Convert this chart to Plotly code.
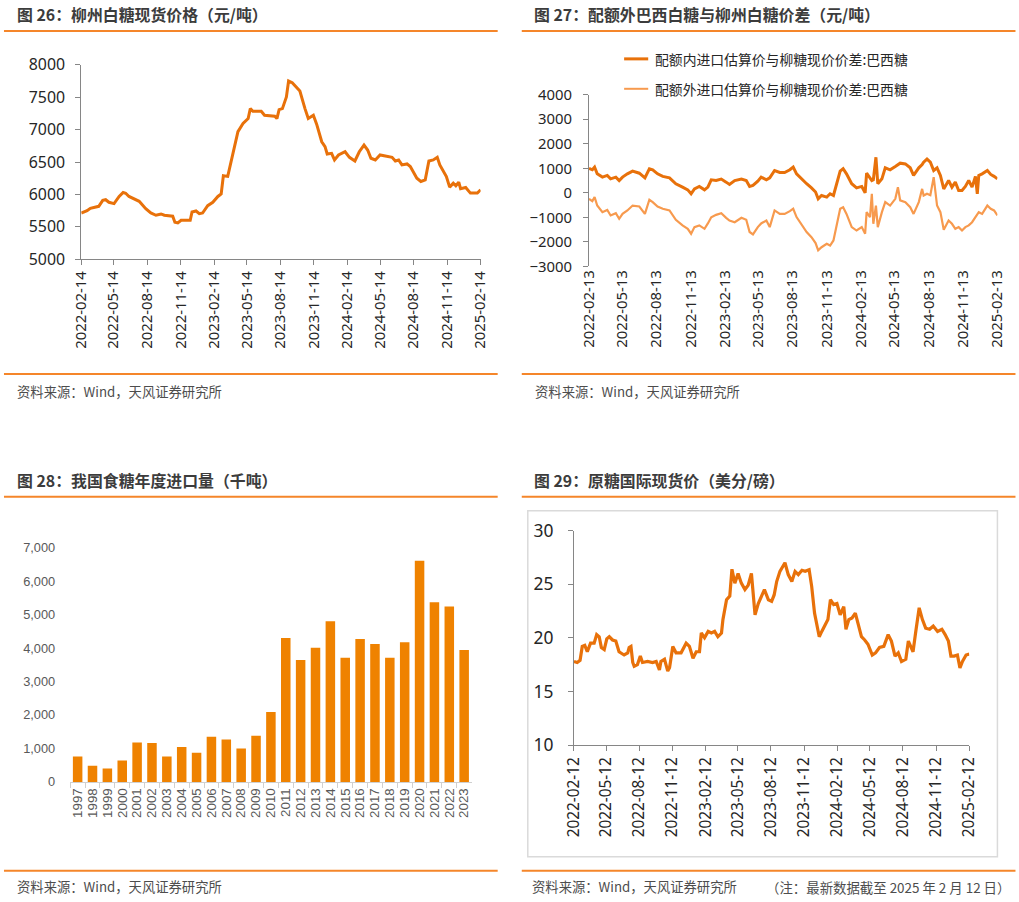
import plotly.graph_objects as go

# ---------------- data ----------------
# Fig 26: Liuzhou white sugar spot price (yuan/ton)
lz_dates = ["2022-02-14","2022-03-02","2022-03-11","2022-04-03","2022-04-14","2022-04-22","2022-05-01","2022-05-15","2022-05-29","2022-06-09",
            "2022-06-16","2022-06-25","2022-07-23","2022-08-10","2022-08-24","2022-09-07","2022-09-21","2022-09-30","2022-10-23","2022-10-29",
            "2022-11-06","2022-11-15","2022-12-10","2022-12-15","2022-12-26","2023-01-04","2023-01-13","2023-01-27","2023-02-10","2023-02-24",
            "2023-03-05","2023-03-11","2023-03-23","2023-04-02","2023-04-11","2023-04-20","2023-05-04","2023-05-18","2023-05-24","2023-05-31",
            "2023-06-23","2023-07-02","2023-07-30","2023-08-05","2023-08-11","2023-08-20","2023-08-31","2023-09-06","2023-09-16","2023-09-26",
            "2023-10-07","2023-10-21","2023-10-30","2023-11-13","2023-11-22","2023-12-06","2023-12-15","2023-12-21","2024-01-02","2024-01-10",
            "2024-01-21","2024-02-08","2024-02-20","2024-03-06","2024-03-18","2024-03-31","2024-04-10","2024-04-19","2024-05-01","2024-05-14",
            "2024-06-02","2024-06-16","2024-06-25","2024-07-04","2024-07-13","2024-07-27","2024-08-05","2024-08-14","2024-08-23","2024-09-03",
            "2024-09-15","2024-09-25","2024-10-07","2024-10-18","2024-10-25","2024-11-12","2024-11-21","2024-12-01","2024-12-08","2024-12-16",
            "2024-12-21","2025-01-04","2025-01-17","2025-02-05","2025-02-14"]
lz_price = [5715,5750,5787,5818,5910,5920,5880,5860,5970,6032,
            6020,5970,5895,5780,5715,5680,5700,5680,5665,5572,
            5562,5603,5603,5730,5746,5705,5715,5828,5880,5970,
            6010,6290,6280,6533,6738,6970,7095,7172,7325,7285,
            7285,7223,7208,7172,7310,7325,7504,7750,7724,7657,
            7596,7325,7172,7223,7085,6814,6738,6625,6635,6533,
            6610,6660,6574,6518,6660,6763,6686,6559,6533,6610,
            6595,6574,6518,6533,6457,6472,6431,6329,6252,6201,
            6227,6518,6533,6574,6457,6278,6114,6175,6135,6190,
            6089,6109,6022,6022,6073]
lz_ticks = ["2022-02-14","2022-05-14","2022-08-14","2022-11-14","2023-02-14","2023-05-14","2023-08-14",
            "2023-11-14","2024-02-14","2024-05-14","2024-08-14","2024-11-14","2025-02-14"]

# Fig 27: Brazil sugar import cost vs Liuzhou spot spread (yuan/ton)
sp_dates = ["2022-02-13","2022-02-22","2022-02-28","2022-03-07","2022-03-21","2022-04-03","2022-04-12","2022-04-26","2022-05-05","2022-05-14",
            "2022-05-27","2022-06-10","2022-06-28","2022-07-13","2022-07-25","2022-08-03","2022-08-16","2022-08-30","2022-09-17","2022-10-04",
            "2022-10-22","2022-11-05","2022-11-14","2022-11-23","2022-12-06","2022-12-20","2022-12-29","2023-01-07","2023-01-20","2023-02-03",
            "2023-02-16","2023-02-25","2023-03-11","2023-03-29","2023-04-11","2023-04-20","2023-04-29","2023-05-12","2023-05-21","2023-06-04",
            "2023-06-13","2023-06-26","2023-07-10","2023-07-23","2023-08-06","2023-08-15","2023-08-24","2023-09-06","2023-09-20","2023-10-03",
            "2023-10-14","2023-10-21","2023-10-30","2023-11-13","2023-11-22","2023-12-01","2023-12-10","2023-12-19","2023-12-27","2024-01-05",
            "2024-01-19","2024-02-01","2024-02-15","2024-02-24","2024-02-28","2024-03-08","2024-03-13","2024-03-17","2024-03-24","2024-03-29",
            "2024-04-09","2024-04-18","2024-05-01","2024-05-15","2024-05-22","2024-05-28","2024-06-11","2024-06-24","2024-07-03","2024-07-17",
            "2024-07-26","2024-07-30","2024-08-08","2024-08-17","2024-08-26","2024-09-04","2024-09-13","2024-09-22","2024-10-05","2024-10-14",
            "2024-10-23","2024-11-01","2024-11-10","2024-11-19","2024-11-28","2024-12-07","2024-12-16","2024-12-21","2024-12-25","2025-01-03",
            "2025-01-17","2025-01-26","2025-02-04","2025-02-13"]
sp_in_quota = [1000,940,1050,775,640,710,570,640,500,640,
               775,885,800,610,980,940,775,670,610,370,
               230,120,-40,160,260,120,230,530,500,560,
               435,340,500,560,500,260,300,475,640,530,
               610,910,830,830,940,1050,775,570,370,200,
               30,-245,-110,-175,-40,-110,435,885,980,775,
               370,200,260,0,800,570,500,530,1450,370,
               570,1020,940,1075,1150,1210,1180,1020,710,1020,
               1150,1250,1375,1250,910,1020,710,160,500,230,
               435,95,95,260,500,230,670,-40,710,775,
               910,750,670,570]
sp_out_quota = [-245,-340,-175,-520,-790,-700,-925,-830,-1060,-860,
                -720,-520,-560,-860,-285,-380,-560,-650,-720,-1100,
                -1330,-1470,-1670,-1400,-1330,-1470,-1250,-1000,-900,-830,
                -1020,-1130,-1200,-1020,-1100,-1600,-1700,-1400,-1250,-1130,
                -1400,-720,-860,-860,-750,-650,-990,-1265,-1600,-1810,
                -2050,-2350,-2220,-2080,-2150,-1945,-1265,-650,-590,-860,
                -1400,-1540,-1400,-1670,-790,-990,-40,-1265,-520,-1400,
                -790,-380,-520,-245,230,-310,-380,-590,-860,-380,
                160,-110,-40,-100,640,-520,-790,-1510,-1130,-1265,
                -1470,-1400,-1540,-1400,-1330,-1200,-990,-900,-790,-860,
                -520,-650,-720,-925]
sp_ticks = ["2022-02-13","2022-05-13","2022-08-13","2022-11-13","2023-02-13","2023-05-13","2023-08-13",
            "2023-11-13","2024-02-13","2024-05-13","2024-08-13","2024-11-13","2025-02-13"]
sp_names = ["配额内进口估算价与柳糖现价价差:巴西糖", "配额外进口估算价与柳糖现价价差:巴西糖"]

# Fig 28: China annual sugar imports (thousand tons)
imp_years = [str(y) for y in range(1997, 2024)]
imp_volume = [760,480,400,640,1180,1160,760,1040,870,1350,
              1270,1000,1380,2090,4300,3640,4010,4800,3710,4270,
              4120,3710,4170,6610,5370,5240,3940]

# Fig 29: international raw sugar spot price (US cents/lb)
raw_dates = ["2022-02-12","2022-02-21","2022-03-01","2022-03-07","2022-03-14","2022-03-21","2022-03-30","2022-04-09","2022-04-16","2022-04-23",
             "2022-04-29","2022-05-07","2022-05-14","2022-05-21","2022-05-30","2022-06-08","2022-06-17","2022-07-01","2022-07-11","2022-07-15",
             "2022-07-20","2022-07-25","2022-07-29","2022-08-07","2022-08-15","2022-08-21","2022-09-04","2022-09-18","2022-09-28","2022-10-07",
             "2022-10-11","2022-10-21","2022-10-30","2022-11-04","2022-11-13","2022-11-22","2022-12-06","2022-12-20","2022-12-29","2023-01-08",
             "2023-01-17","2023-01-26","2023-01-31","2023-02-09","2023-02-19","2023-02-28","2023-03-09","2023-03-18","2023-03-28","2023-04-01",
             "2023-04-11","2023-04-20","2023-04-26","2023-05-04","2023-05-13","2023-05-22","2023-06-01","2023-06-10","2023-06-19","2023-06-29",
             "2023-07-08","2023-07-17","2023-07-25","2023-08-05","2023-08-14","2023-08-21","2023-08-28","2023-09-06","2023-09-20","2023-09-29",
             "2023-10-09","2023-10-18","2023-10-27","2023-11-06","2023-11-15","2023-11-26","2023-12-03","2023-12-11","2023-12-17","2023-12-24",
             "2023-12-31","2024-01-08","2024-01-17","2024-01-24","2024-02-02","2024-02-11","2024-02-20","2024-03-01","2024-03-07","2024-03-15",
             "2024-03-24","2024-04-02","2024-04-11","2024-04-19","2024-04-28","2024-05-07","2024-05-19","2024-05-28","2024-06-08","2024-06-20",
             "2024-07-02","2024-07-11","2024-07-21","2024-07-30","2024-08-08","2024-08-20","2024-08-27","2024-09-03","2024-09-09","2024-09-16",
             "2024-09-26","2024-10-05","2024-10-14","2024-10-25","2024-11-04","2024-11-16","2024-11-28","2024-12-07","2024-12-16","2024-12-23",
             "2025-01-01","2025-01-10","2025-01-17","2025-01-24","2025-02-03","2025-02-12"]
raw_price = [17.8,17.7,17.9,19.2,19.3,18.7,19.5,19.5,20.3,20.1,
             19.1,18.9,19.9,20.1,19.8,19.7,18.7,18.4,18.6,19.1,
             19.2,17.7,17.35,17.5,18.3,17.7,17.8,17.7,17.8,17.0,
             17.8,18.0,16.9,17.2,19.2,18.6,18.6,19.5,19.2,18.1,
             18.7,18.7,20.45,20.0,20.6,20.45,20.6,20.1,20.45,21.7,
             23.55,23.9,26.4,25.1,26.0,25.1,24.5,24.9,26.0,22.15,
             23.2,23.9,24.5,23.55,23.4,24.0,25.25,26.2,27.0,25.9,
             25.25,26.2,25.9,26.3,26.2,26.35,24.8,22.3,21.1,20.1,
             20.6,21.1,21.7,23.55,23.1,23.2,22.15,22.9,20.8,21.7,
             21.85,22.3,21.2,20.1,19.8,19.4,18.4,18.6,19.1,19.2,
             20.3,19.7,18.3,18.6,17.8,18.0,19.7,19.2,18.7,20.45,
             22.8,21.7,20.9,20.8,21.1,20.6,20.8,20.3,19.7,18.3,
             18.3,18.4,17.2,17.8,18.4,18.5]
raw_ticks = ["2022-02-12","2022-05-12","2022-08-12","2022-11-12","2023-02-12","2023-05-12","2023-08-12",
             "2023-11-12","2024-02-12","2024-05-12","2024-08-12","2024-11-12","2025-02-12"]

titles = ["图 26：柳州白糖现货价格（元/吨）", "图 27：配额外巴西白糖与柳州白糖价差（元/吨）",
          "图 28：我国食糖年度进口量（千吨）", "图 29：原糖国际现货价（美分/磅）"]
source = "资料来源：Wind，天风证券研究所"
note = "（注：最新数据截至 2025 年 2 月 12 日）"

# ---------------- style ----------------
W, H = 1019, 902
# the captured page shows the figure slightly inset and shrunk; compensate so that
# positions given in screenshot pixels land where intended
OFF, SC = 12.0, 0.976
def fx(p):
    return ((p - OFF) / SC) / W
def fy(p):
    return 1 - ((p - OFF) / SC) / H
def fs(s):
    return round(s / SC, 2)

CJK = "Noto Sans CJK SC"
NUM = "Noto Sans"
NARROW = "Liberation Sans Narrow, Liberation Sans, Arial"
C_LINE = "#E8710A"
C_LIGHT = "#F79A4E"
C_BAR = "#EF8200"
C_RULE = "#F5862A"
C_AXIS = "#868686"
C_TXT = "#262626"

fig = go.Figure()
fig.add_trace(go.Scatter(x=lz_dates, y=lz_price, mode="lines", line=dict(color=C_LINE, width=3),
                         xaxis="x", yaxis="y", showlegend=False))
fig.add_trace(go.Scatter(x=sp_dates, y=sp_out_quota, mode="lines", name=sp_names[1],
                         line=dict(color=C_LIGHT, width=2.2), xaxis="x2", yaxis="y2", showlegend=False))
fig.add_trace(go.Scatter(x=sp_dates, y=sp_in_quota, mode="lines", name=sp_names[0],
                         line=dict(color=C_LINE, width=3), xaxis="x2", yaxis="y2", showlegend=False))
fig.add_trace(go.Bar(x=imp_years, y=imp_volume, marker=dict(color=C_BAR, line=dict(width=0)),
                     xaxis="x3", yaxis="y3", showlegend=False))
fig.add_trace(go.Scatter(x=raw_dates, y=raw_price, mode="lines", line=dict(color=C_LINE, width=3.2),
                         xaxis="x4", yaxis="y4", showlegend=False))

def date_x(domain, tv, anchor, size, **kw):
    d = dict(domain=domain, range=[tv[0], tv[-1]], tickvals=tv, ticktext=tv, tickangle=-90,
             ticks="outside", ticklen=5, tickcolor=C_AXIS, showline=True, linecolor=C_AXIS, linewidth=1,
             showgrid=False, zeroline=False, anchor=anchor,
             tickfont=dict(family=NUM, size=fs(size), color=C_TXT))
    d.update(kw)
    return d

def num_y(domain, rng, dtick, anchor, size, **kw):
    d = dict(domain=domain, range=rng, dtick=dtick, tick0=rng[0], ticks="outside", ticklen=5, tickcolor=C_AXIS,
             showline=True, linecolor=C_AXIS, linewidth=1, showgrid=False, zeroline=False, anchor=anchor,
             tickfont=dict(family=NUM, size=fs(size), color=C_TXT))
    d.update(kw)
    return d

y2_dom = [fy(266), fy(94)]
y2_rng = [-3000, 4000]
zero_pos = y2_dom[0] + (0 - y2_rng[0]) / (y2_rng[1] - y2_rng[0]) * (y2_dom[1] - y2_dom[0])

fig.update_layout(
    width=W, height=H, margin=dict(l=0, r=0, t=0, b=0), autosize=False,
    paper_bgcolor="white", plot_bgcolor="rgba(0,0,0,0)",
    xaxis=date_x([fx(82), fx(480)], lz_ticks, "y", 14.5),
    yaxis=num_y([fy(259), fy(64)], [5000, 8000], 500, "x", 15.5, ticklabelstandoff=7),
    xaxis2=date_x([fx(588), fx(995)], sp_ticks, "y2", 14.5, showline=False, ticks=""),
    yaxis2=num_y(y2_dom, y2_rng, 1000, "x2", 14.5, ticklabelstandoff=8),
    xaxis5=dict(overlaying="x2", anchor="free", position=zero_pos, range=[sp_ticks[0], sp_ticks[-1]],
                tickvals=sp_ticks, showticklabels=False, ticks="outside", ticklen=5, tickcolor=C_AXIS,
                showline=True, linecolor=C_AXIS, linewidth=1, showgrid=False, zeroline=False),
    xaxis3=dict(domain=[fx(71), fx(471)], type="category", tickmode="array", tickvals=imp_years,
                tickangle=-90, ticks="outside", tickson="boundaries",
                ticklen=5, tickcolor="#D0D0D0", showline=True, linecolor="#D0D0D0", showgrid=False,
                anchor="y3", tickfont=dict(family=NARROW, size=fs(13), color="#595959")),
    yaxis3=dict(domain=[fy(783), fy(548)], range=[0, 7000], tickvals=list(range(0, 7001, 1000)),
                tickformat=",d", showline=False, showgrid=False, zeroline=False, ticks="", anchor="x3",
                ticklabelstandoff=14, tickfont=dict(family=NARROW, size=fs(12.5), color="#595959")),
    bargap=0.36,
    xaxis4=date_x([fx(573), fx(967)], raw_ticks, "y4", 15),
    yaxis4=num_y([fy(746), fy(531)], [10, 30], 5, "x4", 17, ticklabelstandoff=11),
)

shapes = []
for y in (30, 374, 497, 872):
    shapes.append(dict(type="line", xref="paper", yref="paper", x0=fx(5), x1=fx(497), y0=fy(y), y1=fy(y),
                       line=dict(color=C_RULE, width=2)))
    shapes.append(dict(type="line", xref="paper", yref="paper", x0=fx(521), x1=fx(1013), y0=fy(y), y1=fy(y),
                       line=dict(color=C_RULE, width=2)))
shapes.append(dict(type="rect", xref="paper", yref="paper", x0=fx(527), x1=fx(995), y0=fy(858), y1=fy(511),
                   line=dict(color="#DADADA", width=1.5)))
# legend samples for fig 27
shapes.append(dict(type="line", xref="paper", yref="paper", x0=fx(623), x1=fx(647), y0=fy(58), y1=fy(58),
                   line=dict(color=C_LINE, width=3)))
shapes.append(dict(type="line", xref="paper", yref="paper", x0=fx(623), x1=fx(647), y0=fy(88), y1=fy(88),
                   line=dict(color=C_LIGHT, width=2)))
fig.update_layout(shapes=shapes)

ann = []
def text(x, y, s, size, color, bold=False):
    ann.append(dict(xref="paper", yref="paper", x=fx(x), y=fy(y), xanchor="left", yanchor="middle",
                    text=("<b>%s</b>" % s) if bold else s, showarrow=False,
                    font=dict(family=CJK, size=fs(size), color=color)))

text(16, 14, titles[0], 15.5, "#3C3C3C", True)
text(531, 14, titles[1], 15.5, "#3C3C3C", True)
text(16, 481, titles[2], 15.5, "#3C3C3C", True)
text(531, 481, titles[3], 15.5, "#3C3C3C", True)
text(16, 392, source, 13, "#4D4D4D")
text(532, 392, source, 13, "#4D4D4D")
text(16, 888, source, 13, "#4D4D4D")
text(529, 888, source, 13, "#4D4D4D")
text(762, 888, note, 13.1, "#4D4D4D")
text(652, 58, sp_names[0], 13.5, C_TXT)
text(652, 88, sp_names[1], 13.5, C_TXT)
fig.update_layout(annotations=ann)

fig.write_html("out.html", config={"displayModeBar": False},
               post_script="document.body.style.margin='0';document.body.style.padding='0';"
                           "document.body.style.overflow='hidden';")
